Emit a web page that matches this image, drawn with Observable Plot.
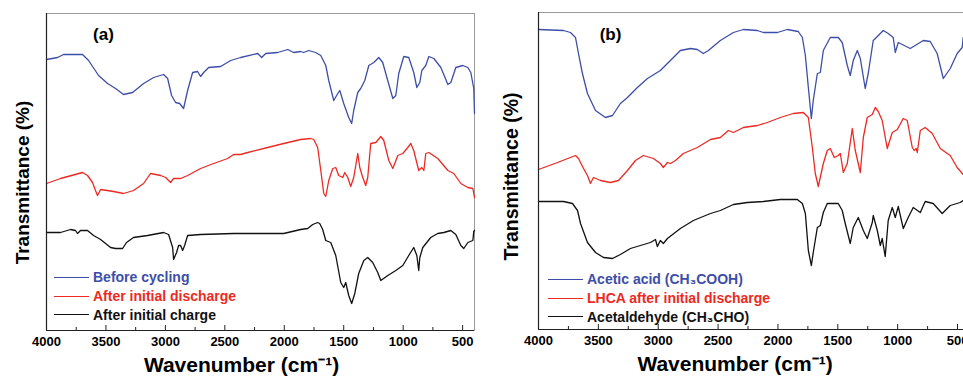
<!DOCTYPE html>
<html>
<head>
<meta charset="utf-8">
<script src="https://cdn.jsdelivr.net/npm/d3@7"></script>
<script src="https://cdn.jsdelivr.net/npm/@observablehq/plot@0.6"></script>
<style>
  html, body { margin: 0; padding: 0; background: #fff; overflow: hidden; }
  #wrap { position: relative; width: 963px; height: 377px; overflow: hidden; font-family: "Liberation Sans", Arial, sans-serif; }
  .panel { position: absolute; top: 0; }
  .panel svg { max-width: none !important; display: block; }
  .legend { position: absolute; font-weight: bold; font-size: 14px; }
  .legend .row { display: flex; align-items: center; height: 18.7px; white-space: nowrap; }
  .legend .sw { display: inline-block; width: 35px; height: 0; border-top: 1.4px solid; margin-right: 4px; }
</style>
</head>
<body>
<div id="wrap"></div>
<script>
// ---------- data: [wavenumber (cm-1), transmittance (a.u.)] ----------
const aBefore = [[4000,271],[3907,273],[3857,276],[3697,276],[3646,270],[3562,255],[3486,247],[3419,242],[3352,236],[3276,238],[3183,247],[3099,253],[3015,256],[2981,252],[2948,235],[2914,228],[2880,227],[2847,222],[2813,240],[2771,258],[2729,259],[2704,254],[2678,258],[2636,263],[2535,264],[2451,270],[2367,273],[2224,277],[2190,273],[2156,277],[2055,278],[1971,281],[1921,278],[1862,279],[1837,278],[1794,280],[1736,278],[1693,275],[1651,265],[1626,250],[1584,230],[1550,237],[1533,240],[1500,227],[1458,213],[1433,207],[1416,220],[1382,238],[1357,242],[1323,250],[1289,265],[1247,268],[1205,273],[1172,268],[1130,250],[1087,232],[1062,235],[1037,257],[995,274],[953,273],[911,258],[885,243],[860,248],[843,260],[810,265],[784,274],[742,272],[683,263],[624,246],[599,248],[557,263],[498,265],[456,263],[431,258],[406,242],[400,217]];
const aDischarge = [[4000,147],[3882,152],[3697,158],[3655,155],[3613,148],[3588,140],[3571,135],[3545,141],[3436,139],[3352,137],[3268,140],[3183,147],[3125,157],[3040,155],[2998,153],[2956,148],[2931,152],[2872,152],[2813,155],[2704,162],[2594,167],[2476,172],[2426,176],[2367,176],[2308,178],[2140,183],[2005,187],[1862,191],[1778,192],[1752,191],[1719,183],[1693,160],[1668,137],[1651,134],[1626,150],[1592,162],[1567,163],[1542,155],[1508,153],[1491,158],[1466,153],[1441,144],[1416,153],[1382,177],[1365,163],[1340,153],[1315,145],[1298,153],[1273,187],[1230,188],[1188,194],[1163,190],[1121,170],[1087,162],[1045,175],[1003,177],[961,183],[936,187],[911,180],[869,160],[843,163],[826,160],[810,177],[784,178],[709,172],[624,160],[574,157],[515,147],[456,143],[414,142],[406,137],[400,133]];
const aCharge = [[4000,98],[3882,98],[3798,101],[3756,100],[3739,97],[3714,100],[3655,100],[3604,95],[3545,91],[3461,83],[3419,82],[3360,82],[3327,88],[3268,93],[3150,95],[3015,98],[2973,96],[2939,83],[2931,71],[2906,78],[2889,85],[2872,85],[2855,80],[2838,85],[2813,95],[2704,96],[2426,97],[2140,97],[2005,97],[1862,101],[1803,102],[1761,106],[1719,108],[1702,107],[1677,101],[1651,90],[1609,88],[1567,75],[1525,48],[1500,43],[1483,48],[1458,35],[1433,27],[1407,37],[1374,57],[1331,70],[1298,73],[1256,68],[1214,58],[1188,50],[1129,55],[1062,60],[1003,65],[953,75],[911,83],[885,75],[869,60],[860,73],[835,83],[768,93],[709,97],[658,98],[599,100],[557,96],[515,85],[490,82],[456,88],[414,90],[406,99],[400,100]];

const bAcetic = [[4000,300],[3791,299],[3733,297],[3691,292],[3666,276],[3633,256],[3591,236],[3524,219],[3441,212],[3382,214],[3316,226],[3257,232],[3174,242],[3090,251],[2982,259],[2898,269],[2815,279],[2731,281],[2673,280],[2623,276],[2581,279],[2481,289],[2372,297],[2289,300],[2172,299],[2122,297],[2005,297],[1922,300],[1830,298],[1796,292],[1771,274],[1746,242],[1721,211],[1705,229],[1671,256],[1646,257],[1621,279],[1563,292],[1496,292],[1463,287],[1421,264],[1396,254],[1371,269],[1337,279],[1312,271],[1271,241],[1246,256],[1204,289],[1120,299],[1079,296],[1037,292],[1020,277],[995,287],[895,281],[786,289],[728,288],[670,276],[619,251],[561,261],[503,276],[461,282],[453,292],[400,296]];
const bLHCA = [[4000,160],[3841,167],[3691,174],[3666,171],[3624,161],[3591,154],[3566,146],[3541,152],[3482,149],[3399,147],[3332,149],[3257,159],[3190,169],[3124,174],[3040,171],[2982,166],[2957,162],[2923,167],[2898,166],[2856,169],[2790,176],[2673,182],[2564,190],[2481,192],[2414,199],[2372,197],[2289,202],[2172,204],[2089,207],[1980,212],[1872,216],[1788,217],[1746,212],[1713,182],[1688,156],[1663,143],[1621,166],[1588,179],[1563,181],[1529,172],[1496,174],[1479,176],[1454,157],[1421,166],[1379,201],[1354,179],[1312,157],[1287,192],[1254,212],[1212,215],[1187,222],[1162,218],[1129,209],[1087,181],[1045,197],[1003,200],[953,211],[920,209],[878,182],[862,179],[845,181],[836,177],[811,199],[770,202],[711,196],[644,181],[586,176],[561,174],[503,162],[453,155],[400,148]];
const bAcetaldehyde = [[4000,128],[3791,128],[3716,126],[3674,119],[3649,106],[3591,87],[3524,77],[3457,72],[3382,71],[3316,75],[3232,81],[3149,84],[3065,87],[3023,90],[3007,83],[2982,89],[2957,86],[2923,91],[2815,101],[2706,109],[2564,116],[2481,119],[2372,125],[2255,127],[2122,128],[1980,130],[1838,130],[1796,126],[1771,116],[1746,79],[1721,64],[1705,77],[1671,102],[1646,104],[1621,117],[1588,126],[1496,126],[1463,119],[1438,106],[1396,86],[1371,102],[1329,112],[1287,99],[1254,91],[1212,107],[1204,114],[1170,99],[1145,84],[1129,91],[1104,73],[1079,109],[1045,122],[1020,112],[995,123],[953,101],[912,112],[870,122],[811,117],[770,128],[703,126],[628,116],[561,124],[478,127],[453,129],[400,131]];

const majorTicks = [4000, 3500, 3000, 2500, 2000, 1500, 1000, 500];
const minorTicks = [3750, 3250, 2750, 2250, 1750, 1250, 750];
const xDomain = [4000, 400];
const yDomain = [0, 317];

const colors = ["#3d4ea8", "#ec2a23", "#111111"];
const aLabels = ["Before cycling", "After initial discharge", "After initial charge"];
const bLabels = ["Acetic acid (CH\u2083COOH)", "LHCA after initial discharge", "Acetaldehyde (CH\u2083CHO)"];
const panelTags = ["(a)", "(b)"];
const xTitle = "Wavenumber (cm\u207B\u00B9)";
const yTitle = "Transmittance (%)";

function panel(series, tag, opts) {
  return Plot.plot({
    width: opts.width, height: 377,
    marginLeft: opts.ml, marginRight: opts.mr, marginTop: opts.mt, marginBottom: opts.mb,
    x: {domain: xDomain, axis: null},
    y: {domain: yDomain, axis: null},
    style: {fontFamily: "'Liberation Sans', Arial, sans-serif", fontWeight: "bold", color: "#000", background: "#fff", overflow: "visible"},
    marks: [
      Plot.frame({stroke: "#9a9a9a", strokeWidth: 1}),
      ...series.map((s, i) => Plot.line(s, {x: d => d[0], y: d => d[1], stroke: colors[i], strokeWidth: 1.3})),
      Plot.ruleX([xDomain[0]], {stroke: "#222", strokeWidth: 1.2}),
      Plot.ruleY([yDomain[0]], {stroke: "#222", strokeWidth: 1.2}),
      Plot.axisX(majorTicks, {anchor: "bottom", tickSize: -5, tickPadding: 11, fontSize: 13, fontWeight: "bold", stroke: "#222", tickFormat: d => String(d)}),
      Plot.axisX(minorTicks, {anchor: "bottom", tickSize: -3, text: null, stroke: "#222"}),
      Plot.text([tag], {frameAnchor: "top-left", dx: opts.tagDx, dy: opts.tagDy, textAnchor: "middle", lineAnchor: "middle", fontSize: 17, fontWeight: "bold", fill: "#000"}),
      Plot.text([xTitle], {frameAnchor: "bottom", dx: -19, dy: 35, textAnchor: "middle", lineAnchor: "middle", fontSize: 21, fontWeight: "bold", fill: "#000"}),
      Plot.text([yTitle], {frameAnchor: "left", rotate: -90, dx: opts.ylDx, dy: opts.ylDy, textAnchor: "middle", lineAnchor: "middle", fontSize: opts.ylSize, fontWeight: "bold", fill: "#000"})
    ]
  });
}

const wrap = document.getElementById("wrap");

function addPanel(svg, left, width) {
  const d = document.createElement("div");
  d.className = "panel";
  d.style.left = left + "px";
  d.style.width = width + "px";
  svg.style.maxWidth = "none";
  d.appendChild(svg);
  wrap.appendChild(d);
}

function addLegend(labels, left, top) {
  const lg = document.createElement("div");
  lg.className = "legend";
  lg.style.left = left + "px";
  lg.style.top = top + "px";
  labels.forEach((t, i) => {
    const row = document.createElement("div");
    row.className = "row";
    const sw = document.createElement("span");
    sw.className = "sw";
    sw.style.borderTopColor = colors[i];
    const tx = document.createElement("span");
    tx.textContent = t;
    tx.style.color = colors[i];
    row.appendChild(sw); row.appendChild(tx);
    lg.appendChild(row);
  });
  wrap.appendChild(lg);
}

addPanel(panel([aBefore, aDischarge, aCharge], panelTags[0],
  {width: 480, ml: 46, mr: 6, mt: 13, mb: 47, tagDx: 57, tagDy: 21, ylDx: -23.5, ylDy: 10.5, ylSize: 19}), 0, 480);
addPanel(panel([bAcetic, bLHCA, bAcetaldehyde], panelTags[1],
  {width: 500, ml: 58, mr: 11, mt: 12, mb: 48, tagDx: 72, tagDy: 22, ylDx: -27, ylDy: 5.5, ylSize: 19.5}), 480, 500);

addLegend(aLabels, 54, 268);
addLegend(bLabels, 548, 270);
</script>
</body>
</html>
